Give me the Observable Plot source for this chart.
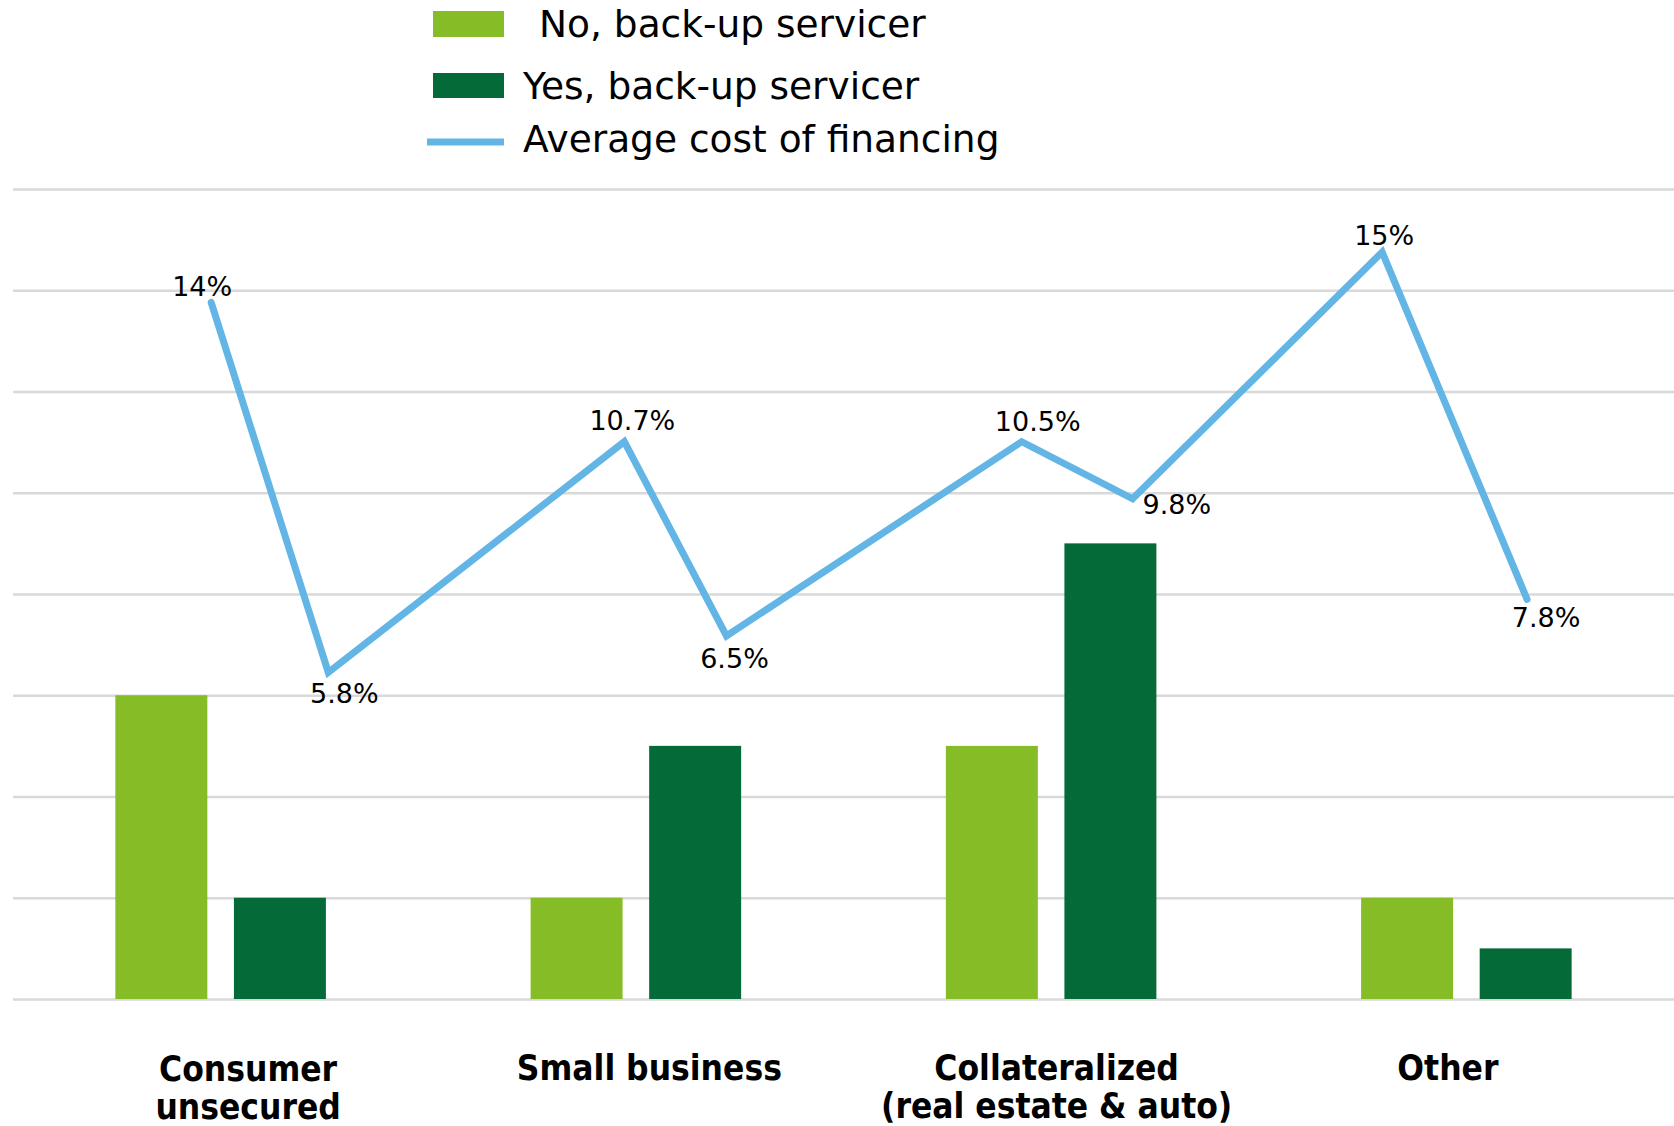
<!DOCTYPE html>
<html><head><meta charset="utf-8">
<script src="https://cdn.jsdelivr.net/npm/d3@7"></script>
<script src="https://cdn.jsdelivr.net/npm/@observablehq/plot@0.6"></script>
<style>
body{margin:0;background:#fff;}
#legend svg,#chart svg{display:block}
</style></head><body>
<div id="legend"></div>
<div id="chart"></div>
<script>
// ---- data ----
const categories = ["Consumer\nunsecured", "Small business", "Collateralized\n(real estate & auto)", "Other"];
const noBackup  = [3, 1, 2.5, 1];
const yesBackup = [1, 2.5, 4.5, 0.5];
const costLabels = ["14%", "5.8%", "10.7%", "6.5%", "10.5%", "9.8%", "15%", "7.8%"];
const costValues = [13.9, 5.8, 10.85, 6.6, 10.85, 9.6, 15.0, 7.4];
const costX = [0.476, 0.758, 1.471, 1.717, 2.428, 2.695, 3.296, 3.645];
const gridTicks = [0, 1, 2, 3, 4, 5, 6, 7, 8];
const seriesNames = ["No, back-up servicer", "Yes, back-up servicer", "Average cost of financing"];

// ---- style config ----
const colNo = "#86BC25", colYes = "#046A38", colLine = "#62B5E5";
// label placement relative to each line vertex: [anchor side, dx, dy]
const labelPlace = [
  ["above", -9, -6], ["below", 16, 11], ["above", 8, -12], ["below", 8, 13],
  ["above", 16, -11], ["right", 10, 7], ["above", 2, -7], ["below", 19, 9]
];
const catNudge = [[27, 1], [13, 0], [5, 0], [-19, 0]];
const barW = 0.2215, barGap = 0.064;
const costAxis = d3.scaleLinear().domain([-1.36, 16.37]).range([0, 8]); // secondary axis mapped onto primary

const bars = categories.flatMap((c, i) => [
  {i, series: "No", value: noBackup[i]},
  {i, series: "Yes", value: yesBackup[i]}
]);
const line = costValues.map((v, k) => ({x: costX[k], y: costAxis(v), label: costLabels[k]}));

// ---- legend ----
const lg = d3.create("svg").attr("width", 1674).attr("height", 160)
  .style("font-family", "DejaVu Sans").style("font-size", "37.5px");
lg.append("rect").attr("x", 433).attr("y", 11).attr("width", 71).attr("height", 26).attr("fill", colNo);
lg.append("text").attr("x", 539).attr("y", 37).text(seriesNames[0]);
lg.append("rect").attr("x", 433).attr("y", 73).attr("width", 71).attr("height", 25).attr("fill", colYes);
lg.append("text").attr("x", 523).attr("y", 99).text(seriesNames[1]);
lg.append("line").attr("x1", 427).attr("x2", 504).attr("y1", 142).attr("y2", 142).attr("stroke", colLine).attr("stroke-width", 7);
lg.append("text").attr("x", 523).attr("y", 152).text(seriesNames[2]);
document.getElementById("legend").append(lg.node());

const anchorOpts = {
  above: {lineAnchor: "bottom", textAnchor: "middle"},
  below: {lineAnchor: "top", textAnchor: "middle"},
  right: {lineAnchor: "middle", textAnchor: "start"}
};

// ---- chart ----
const chart = Plot.plot({
  width: 1674, height: 966,
  marginLeft: 13, marginRight: 0, marginTop: 29, marginBottom: 127,
  x: {domain: [0, 4], axis: null},
  y: {domain: [0, 8], axis: null},
  color: {domain: ["No", "Yes"], range: [colNo, colYes]},
  style: {fontFamily: "DejaVu Sans", background: "white", color: "black"},
  marks: [
    Plot.ruleY(gridTicks, {stroke: "#d9d9d9", strokeWidth: 2.5}),
    Plot.rectY(bars, {
      x1: d => d.i + 0.5 + (d.series === "No" ? -barGap / 2 - barW : barGap / 2),
      x2: d => d.i + 0.5 + (d.series === "No" ? -barGap / 2 : barGap / 2 + barW),
      y1: 0, y2: "value", fill: "series"
    }),
    Plot.line(line, {x: "x", y: "y", stroke: colLine, strokeWidth: 7, strokeLinejoin: "miter", strokeMiterlimit: 4}),
    ...line.map((d, k) => {
      const [side, dx, dy] = labelPlace[k];
      return Plot.text([d], {x: "x", y: "y", text: "label", fontSize: 27, dx, dy, fill: "black", ...anchorOpts[side]});
    }),
    ...categories.map((c, i) => Plot.text([c], {x: () => i + 0.5, frameAnchor: "bottom", lineAnchor: "top",
      dx: catNudge[i][0], dy: 54 + catNudge[i][1],
      fontWeight: "bold", fontSize: 35, fontFamily: "DejaVu Sans Condensed", lineHeight: 1.08, fill: "black"}))
  ]
});
document.getElementById("chart").append(chart);
</script>
</body></html>
